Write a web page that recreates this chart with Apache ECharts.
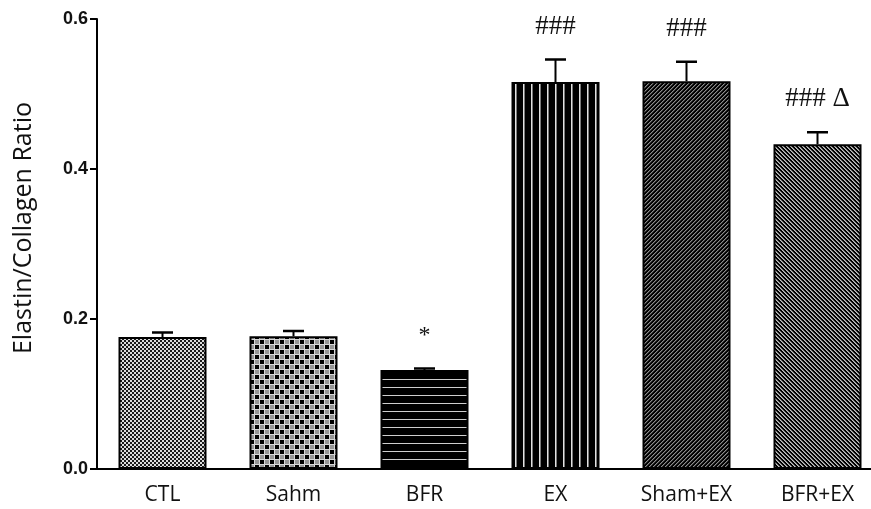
<!DOCTYPE html>
<html>
<head>
<meta charset="utf-8">
<script src="https://cdn.jsdelivr.net/npm/echarts@6/dist/echarts.min.js"></script>
<style>
html,body{margin:0;padding:0;background:#fff;}
#chart{width:871px;height:509px;}
</style>
</head>
<body>
<div id="chart"></div>
<script>
// ---- data ----
var categories = ['CTL', 'Sahm', 'BFR', 'EX', 'Sham+EX', 'BFR+EX'];
var means = [0.176, 0.177, 0.132, 0.516, 0.517, 0.433];
var errors = [0.006, 0.007, 0.002, 0.030, 0.026, 0.016];
var marks = ['', '', '*', '###', '###', '### \u0394'];
var yTickLabels = ['0.0', '0.2', '0.4', '0.6'];
var yAxisTitle = 'Elastin/Collagen Ratio';

// ---- patterns ----
function tile(w, h, draw) {
  var c = document.createElement('canvas');
  c.width = w; c.height = h;
  var ctx = c.getContext('2d');
  draw(ctx, w, h);
  return c;
}
function px(ctx, x, y, col) { ctx.fillStyle = col; ctx.fillRect(x, y, 1, 1); }
var patterns = [
  tile(4, 4, function (ctx) {
    ctx.fillStyle = '#dcdcdc'; ctx.fillRect(0, 0, 4, 4);
    ctx.fillStyle = '#1a1a1a'; ctx.fillRect(0, 0, 2, 2); ctx.fillRect(2, 2, 2, 2);
  }),
  tile(10, 10, function (ctx) {
    ctx.fillStyle = '#d8d8d8'; ctx.fillRect(0, 0, 10, 10);
    ctx.fillStyle = '#000'; ctx.fillRect(0, 0, 4, 4); ctx.fillRect(5, 5, 4, 4);
    ctx.fillStyle = '#969696'; ctx.fillRect(5, 0, 4, 4); ctx.fillRect(0, 5, 4, 4);
  }),
  tile(1, 8, function (ctx) {
    ctx.fillStyle = '#000'; ctx.fillRect(0, 0, 1, 8);
    px(ctx, 0, 3, '#cfcfcf');
  }),
  tile(8, 1, function (ctx) {
    ctx.fillStyle = '#000'; ctx.fillRect(0, 0, 8, 1);
    px(ctx, 3, 0, '#e2e2e2'); px(ctx, 4, 0, '#7a7a7a');
  }),
  tile(4, 4, function (ctx) {
    ctx.fillStyle = '#000'; ctx.fillRect(0, 0, 4, 4);
    for (var x = 0; x < 4; x++) for (var y = 0; y < 4; y++) {
      var k = (x + y) % 4;
      if (k === 3) px(ctx, x, y, '#8c8c8c');
      else if (k === 0) px(ctx, x, y, '#3a3a3a');
    }
  }),
  tile(4, 4, function (ctx) {
    ctx.fillStyle = '#000'; ctx.fillRect(0, 0, 4, 4);
    for (var x = 0; x < 4; x++) for (var y = 0; y < 4; y++) {
      var k = (x - y + 4) % 4;
      if (k === 0) px(ctx, x, y, '#c4c4c4');
      else if (k === 1) px(ctx, x, y, '#7c7c7c');
    }
  })
];

var chart = echarts.init(document.getElementById('chart'), null, { renderer: 'canvas' });

var barData = means.map(function (v, i) {
  return {
    value: v,
    itemStyle: {
      color: { image: patterns[i], repeat: 'repeat' },
      borderColor: '#000',
      borderWidth: 2
    }
  };
});

var errData = means.map(function (v, i) { return [i, v, v + errors[i], marks[i]]; });

var option = {
  animation: false,
  backgroundColor: '#fff',
  grid: { left: 97, top: 19, width: 786, height: 450, containLabel: false, outerBoundsMode: 'none' },
  xAxis: {
    type: 'category',
    data: categories,
    axisLine: { show: true, lineStyle: { color: '#000', width: 2 } },
    axisTick: { show: false },
    axisLabel: {
      margin: 16,
      color: '#111',
      fontFamily: 'Open Sans',
      fontSize: 21,
      lineHeight: 21
    }
  },
  yAxis: {
    type: 'value',
    min: 0, max: 0.6, interval: 0.2,
    axisLine: { show: true, lineStyle: { color: '#000', width: 2 } },
    axisTick: { show: true, length: 7, lineStyle: { color: '#000', width: 2 } },
    splitLine: { show: false },
    axisLabel: {
      margin: 9,
      color: '#111',
      fontFamily: 'Liberation Sans',
      fontWeight: 'bold',
      fontSize: 18,
      formatter: function (v) { return yTickLabels[Math.round(v / 0.2)]; }
    }
  },
  graphic: [{
    type: 'text',
    x: 24, y: 228,
    rotation: Math.PI / 2,
    style: {
      text: yAxisTitle,
      fontFamily: 'Open Sans',
      fontSize: 25,
      fill: '#111',
      align: 'center',
      verticalAlign: 'middle'
    }
  }],
  series: [
    {
      type: 'bar',
      data: barData,
      barWidth: 88,
      z: 2
    },
    {
      type: 'custom',
      data: errData,
      z: 3,
      renderItem: function (params, api) {
        var x = api.coord([api.value(0), api.value(1)]);
        var top = api.coord([api.value(0), api.value(2)]);
        var cap = 10.5;
        var txt = errData[params.dataIndex][3];
        var children = [
          { type: 'line', shape: { x1: x[0], y1: x[1], x2: top[0], y2: top[1] }, style: { stroke: '#000', lineWidth: 2 } },
          { type: 'line', shape: { x1: top[0] - cap, y1: top[1], x2: top[0] + cap, y2: top[1] }, style: { stroke: '#000', lineWidth: 2.5 } }
        ];
        if (txt) {
          children.push({
            type: 'text',
            x: top[0], y: top[1] - 33,
            style: {
              text: txt,
              fontFamily: 'Liberation Serif',
              fontSize: txt === '*' ? 24 : 27,
              fill: '#111',
              align: 'center',
              verticalAlign: 'middle'
            }
          });
        }
        return { type: 'group', children: children };
      }
    }
  ]
};
chart.setOption(option);
</script>
</body>
</html>
